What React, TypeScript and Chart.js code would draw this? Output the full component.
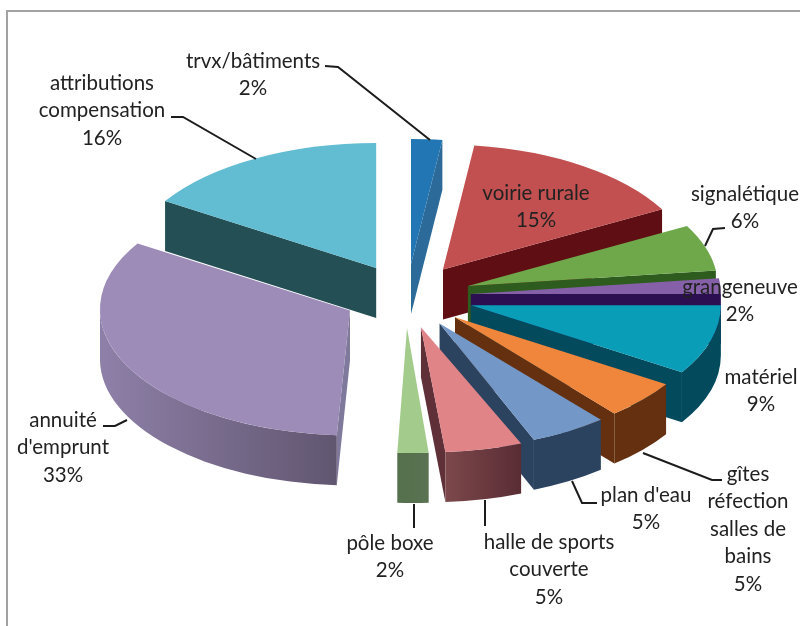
import React, { useEffect, useRef } from "react";
import { Chart, registerables } from "chart.js";

Chart.register(...registerables);

const categories = ["trvx/bâtiments", "voirie rurale", "signalétique", "grangeneuve", "matériel", "gîtes réfection salles de bains", "plan d'eau", "halle de sports couverte", "pôle boxe", "annuité d'emprunt", "attributions compensation"];
const values = [2, 15, 6, 2, 9, 5, 5, 5, 2, 33, 16];
const topColors = ["#2176b3", "#c25050", "#6fa84b", "#8560a8", "#0a9db8", "#f0863c", "#7398c8", "#e08488", "#a3cc8c", "#9d8cb8", "#62bdd2"];
const sideColors = ["#2c6a99", "#5f0f14", "#2e5c1e", "#2b0f50", "#024a5c", "#64300f", "#2c4360", "#5f3038", "#58704f", "#7f7a9b", "#245055"];
const wallLeft = ["#2c6a99", "#5f0f14", "#2e5c1e", "#2b0f50", "#024a5c", "#64300f", "#2c4360", "#7c484b", "#54704c", "#8e80a8", "#245055"];
const wallRight = ["#2c6a99", "#5f0f14", "#2e5c1e", "#2b0f50", "#024a5c", "#64300f", "#2c4360", "#592c34", "#5a7252", "#615670", "#245055"];
const explode = [64, 64, 64, 64, 66.5, 64, 64, 64, 64, 64, 64];
const skew = [0, 0, 0, 0, 0, 0, 0.02, 0.07, 0.048, 0.02, 0];

const labelLines = [
  ["trvx/bâtiments"], ["voirie rurale"], ["signalétique"], ["grangeneuve"], ["matériel"],
  ["gîtes", "réfection", "salles de", "bains"], ["plan d'eau"], ["halle de sports", "couverte"],
  ["pôle boxe"], ["annuité", "d'emprunt"], ["attributions", "compensation"],
];
const labelCenters = [[253, 61], [536, 193], [745, 194], [740, 287], [761, 377], [748, 474], [646, 495], [549, 542], [390, 543], [63, 420], [102, 83]];
const leaders = [
  [[325, 66], [338, 67], [430, 140]],
  [],
  [[725, 228], [713, 229], [705, 246]],
  [],
  [],
  [[722, 480], [712, 480], [643, 453]],
  [[597, 503], [582, 503], [572, 481]],
  [[485, 500], [485, 526]],
  [[414, 504], [414, 528]],
  [[103, 426], [115, 426], [127, 420]],
  [[171, 117], [183, 117], [256, 159]],
];

const SQUASH = 0.5;
const DEPTH = 50;
const LINE_HEIGHT = 27.6;
const FONT = "20.5px Lato";

const pie3d = {
  id: "pie3d",
  beforeDraw(chart: any) {
    const { ctx, width, height } = chart;
    ctx.save();
    ctx.fillStyle = "#a3a3a3";
    ctx.fillRect(6, 10, 2, height - 10);
    ctx.fillRect(6, 10, width - 6, 2);
    ctx.restore();
  },
  beforeDatasetsDraw(chart: any) {
    const { ctx } = chart;
    const arcs = chart.getDatasetMeta(0).data;
    const order = arcs
      .map((a: any, i: number) => ({ a, i, mid: (a.startAngle + a.endAngle) / 2 }))
      .sort((p: any, q: any) => Math.sin(p.mid) - Math.sin(q.mid));
    for (const { a, i, mid } of order) {
      const r = a.outerRadius;
      const cx = a.x + Math.cos(mid) * explode[i];
      const cy = a.y + Math.sin(mid) * explode[i] * SQUASH;
      const sk = skew[i];
      const rim = (t: number) => {
        const dy = Math.sin(t) * r * SQUASH;
        return [cx + Math.cos(t) * r + sk * dy, cy + dy];
      };
      const side = (t: number) => {
        const [x, y] = rim(t);
        ctx.beginPath();
        ctx.moveTo(cx, cy);
        ctx.lineTo(x, y);
        ctx.lineTo(x, y + DEPTH);
        ctx.lineTo(cx, cy + DEPTH);
        ctx.closePath();
        ctx.fillStyle = sideColors[i];
        ctx.fill();
      };
      if (Math.cos(a.startAngle) < 0) side(a.startAngle);
      if (Math.cos(a.endAngle) > 0) side(a.endAngle);
      const turn = Math.PI * 2;
      for (const k of [-1, 0, 1]) {
        const from = Math.max(a.startAngle, k * turn);
        const to = Math.min(a.endAngle, k * turn + Math.PI);
        if (to <= from) continue;
        const [x0] = rim(from);
        const [x1] = rim(to);
        const g = ctx.createLinearGradient(Math.min(x0, x1), 0, Math.max(x0, x1) + 0.01, 0);
        g.addColorStop(0, wallLeft[i]);
        g.addColorStop(1, wallRight[i]);
        ctx.beginPath();
        ctx.save();
        ctx.translate(cx, cy);
        ctx.transform(1, 0, sk, 1, 0, 0);
        ctx.ellipse(0, 0, r, r * SQUASH, 0, from, to);
        ctx.restore();
        ctx.save();
        ctx.translate(cx, cy + DEPTH);
        ctx.transform(1, 0, sk, 1, 0, 0);
        ctx.ellipse(0, 0, r, r * SQUASH, 0, to, from, true);
        ctx.restore();
        ctx.closePath();
        ctx.fillStyle = g;
        ctx.fill();
      }
      ctx.save();
      ctx.translate(cx, cy);
      ctx.transform(1, 0, sk, 1, 0, 0);
      ctx.scale(1, SQUASH);
      ctx.translate(-a.x, -a.y);
      a.draw(ctx);
      ctx.restore();
    }
    return false;
  },
  afterDraw(chart: any) {
    const { ctx } = chart;
    ctx.save();
    ctx.strokeStyle = "#1c1c1c";
    ctx.lineWidth = 2;
    for (const pts of leaders) {
      if (!pts.length) continue;
      ctx.beginPath();
      pts.forEach((p: number[], j: number) => (j ? ctx.lineTo(p[0], p[1]) : ctx.moveTo(p[0], p[1])));
      ctx.stroke();
    }
    ctx.fillStyle = "#222222";
    ctx.font = FONT;
    ctx.textAlign = "center";
    ctx.textBaseline = "middle";
    labelLines.forEach((lines, i) => {
      const [x, y] = labelCenters[i];
      [...lines, `${values[i]}%`].forEach((t, j) => ctx.fillText(t, x, y + j * LINE_HEIGHT));
    });
    ctx.restore();
  },
};

export default function App() {
  const ref = useRef<HTMLCanvasElement>(null);
  useEffect(() => {
    const chart = new Chart(ref.current!, {
      type: "pie",
      data: {
        labels: categories,
        datasets: [{ data: values, backgroundColor: topColors, borderWidth: 0 }],
      },
      options: {
        animation: false,
        responsive: false,
        layout: { padding: { left: 157, right: 143, top: 46, bottom: 80 } },
        plugins: { legend: { display: false }, tooltip: { enabled: false } },
      },
      plugins: [pie3d],
    } as any);
    return () => chart.destroy();
  }, []);
  return (
    <div style={{ position: "absolute", left: 0, top: 0, width: 800, height: 626, background: "#fff" }}>
      <canvas ref={ref} width={800} height={626} style={{ display: "block" }} />
    </div>
  );
}
